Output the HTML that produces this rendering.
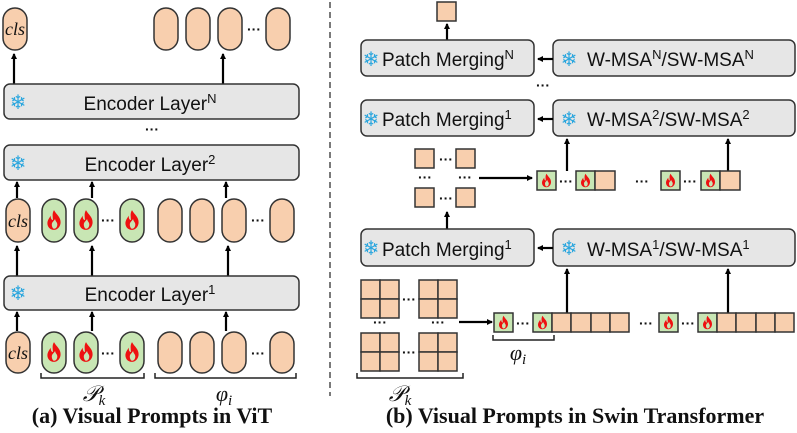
<!DOCTYPE html>
<html><head><meta charset="utf-8"><style>
html,body{margin:0;padding:0;background:#fff}
svg{display:block}
text{font-family:"Liberation Sans","DejaVu Sans",sans-serif}
.b{fill:#e6e6e6;stroke:#333;stroke-width:1.5}
.pe{fill:#f8cfae;stroke:#333;stroke-width:1.5}
.gr{fill:#c8e6b4;stroke:#333;stroke-width:1.5}
.ln{stroke:#000;stroke-width:2.2;fill:none}
.br{stroke:#222;stroke-width:1.5;fill:none}
.lbl{font-size:19px;fill:#111}
.sf{font-size:20px;fill:#2aa6de;font-family:"DejaVu Sans",sans-serif}
.dots{font-size:14px;fill:#111;font-weight:bold}
.cls{font-family:"Liberation Serif",serif;font-style:italic;font-size:18px;fill:#111}
.cap{font-family:"Liberation Serif",serif;font-weight:bold;font-size:22px;fill:#111}
.m{font-family:"Liberation Serif",serif;font-style:italic;font-size:22px;fill:#111}
</style></head><body>
<svg width="797" height="433" viewBox="0 0 797 433" xmlns="http://www.w3.org/2000/svg">
<defs>
<marker id="ah" markerWidth="6" markerHeight="6" refX="5" refY="3" orient="auto" markerUnits="userSpaceOnUse"><path d="M0,0 L6,3 L0,6 z" fill="#000"/></marker>
<symbol id="fl" viewBox="0 0 20 20"><path d="M10 1 C12 5 16 7 16 12 C16 16 13 19 10 19 C6 19 4 16 4 13 C4 10 6 8 7 6 C7 9 8 10 9 10 C9 7 8 4 10 1 Z M10 18 C12 18 13 16 13 14 C13 12 11 11 11 9 C10 11 8 12 8 14 C8 16 9 18 10 18Z" fill="#ee1111" fill-rule="evenodd"/></symbol>
</defs>

<!-- LEFT PANEL -->
<rect x="3" y="8" width="24" height="42" rx="12" class="pe"/><text x="15" y="35" class="cls" text-anchor="middle">cls</text>
<rect x="154" y="8" width="24" height="42" rx="12" class="pe"/>
<rect x="186" y="8" width="24" height="42" rx="12" class="pe"/>
<rect x="218" y="8" width="24" height="42" rx="12" class="pe"/>
<text x="254" y="34" class="dots" text-anchor="middle">···</text>
<rect x="266" y="8" width="24" height="42" rx="12" class="pe"/>
<line x1="14" y1="84" x2="14" y2="54" class="ln" marker-end="url(#ah)"/>
<line x1="223" y1="84" x2="223" y2="54" class="ln" marker-end="url(#ah)"/>

<rect x="4" y="84" width="295" height="35" rx="6" class="b"/>
<text x="18" y="109" class="sf" text-anchor="middle">❄</text>
<text x="150" y="110" class="lbl" text-anchor="middle">Encoder Layer<tspan font-size="13" dy="-7">N</tspan></text>
<text x="152" y="134" class="dots" text-anchor="middle">···</text>

<rect x="4" y="145" width="295" height="35" rx="6" class="b"/>
<text x="18" y="170" class="sf" text-anchor="middle">❄</text>
<text x="150" y="171" class="lbl" text-anchor="middle">Encoder Layer<tspan font-size="13" dy="-7">2</tspan></text>

<line x1="17" y1="198" x2="17" y2="182" class="ln" marker-end="url(#ah)"/>
<line x1="92" y1="198" x2="92" y2="182" class="ln" marker-end="url(#ah)"/>
<line x1="226" y1="198" x2="226" y2="182" class="ln" marker-end="url(#ah)"/>

<rect x="6" y="199" width="24" height="43" rx="12" class="pe"/><text x="18" y="227" class="cls" text-anchor="middle">cls</text>
<rect x="42" y="199" width="24" height="43" rx="12" class="gr"/><use href="#fl" x="43" y="208" width="22" height="24"/>
<rect x="74" y="199" width="24" height="43" rx="12" class="gr"/><use href="#fl" x="75" y="208" width="22" height="24"/>
<text x="108" y="225" class="dots" text-anchor="middle">···</text>
<rect x="120" y="199" width="24" height="43" rx="12" class="gr"/><use href="#fl" x="121" y="208" width="22" height="24"/>
<rect x="158" y="199" width="24" height="43" rx="12" class="pe"/>
<rect x="190" y="199" width="24" height="43" rx="12" class="pe"/>
<rect x="222" y="199" width="24" height="43" rx="12" class="pe"/>
<text x="258" y="225" class="dots" text-anchor="middle">···</text>
<rect x="270" y="199" width="24" height="43" rx="12" class="pe"/>

<line x1="17" y1="276" x2="17" y2="246" class="ln" marker-end="url(#ah)"/>
<line x1="92" y1="276" x2="92" y2="246" class="ln" marker-end="url(#ah)"/>
<line x1="228" y1="276" x2="228" y2="246" class="ln" marker-end="url(#ah)"/>

<rect x="4" y="276" width="295" height="34" rx="6" class="b"/>
<text x="18" y="300" class="sf" text-anchor="middle">❄</text>
<text x="150" y="301" class="lbl" text-anchor="middle">Encoder Layer<tspan font-size="13" dy="-7">1</tspan></text>

<line x1="17" y1="331" x2="17" y2="312" class="ln" marker-end="url(#ah)"/>
<line x1="92" y1="331" x2="92" y2="312" class="ln" marker-end="url(#ah)"/>
<line x1="226" y1="331" x2="226" y2="312" class="ln" marker-end="url(#ah)"/>

<rect x="6" y="332" width="24" height="41" rx="12" class="pe"/><text x="18" y="359" class="cls" text-anchor="middle">cls</text>
<rect x="42" y="332" width="24" height="41" rx="12" class="gr"/><use href="#fl" x="43" y="340" width="22" height="24"/>
<rect x="74" y="332" width="24" height="41" rx="12" class="gr"/><use href="#fl" x="75" y="340" width="22" height="24"/>
<text x="108" y="358" class="dots" text-anchor="middle">···</text>
<rect x="120" y="332" width="24" height="41" rx="12" class="gr"/><use href="#fl" x="121" y="340" width="22" height="24"/>
<rect x="158" y="332" width="24" height="41" rx="12" class="pe"/>
<rect x="190" y="332" width="24" height="41" rx="12" class="pe"/>
<rect x="222" y="332" width="24" height="41" rx="12" class="pe"/>
<text x="258" y="358" class="dots" text-anchor="middle">···</text>
<rect x="270" y="332" width="24" height="41" rx="12" class="pe"/>

<path d="M41 373 V378 H144 V373" class="br"/>
<path d="M155 373 V378 H296 V373" class="br"/>
<text x="94" y="401" class="m" text-anchor="middle">𝒫<tspan font-size="15" dy="4">k</tspan></text>
<text x="224" y="401" class="m" text-anchor="middle">φ<tspan font-size="15" dy="4">i</tspan></text>
<text x="152" y="423" class="cap" text-anchor="middle">(a) Visual Prompts in ViT</text>

<line x1="330" y1="2" x2="330" y2="396" stroke="#333" stroke-width="1.3" stroke-dasharray="6,4"/>

<!-- RIGHT PANEL -->
<rect x="437" y="2" width="19" height="19" class="pe"/>
<line x1="447" y1="40" x2="447" y2="24" class="ln" marker-end="url(#ah)"/>

<rect x="361" y="40" width="173" height="36" rx="6" class="b"/>
<text x="371" y="66" class="sf" text-anchor="middle">❄</text>
<text x="382" y="66" class="lbl">Patch Merging<tspan font-size="13" dy="-7">N</tspan></text>
<rect x="553" y="40" width="242" height="36" rx="6" class="b"/>
<text x="569" y="66" class="sf" text-anchor="middle">❄</text>
<text x="587" y="66" class="lbl">W-MSA<tspan font-size="13" dy="-7">N</tspan><tspan dy="7">/SW-MSA</tspan><tspan font-size="13" dy="-7">N</tspan></text>
<line x1="553" y1="59" x2="538" y2="59" class="ln" marker-end="url(#ah)"/>
<text x="543" y="90" class="dots" text-anchor="middle">···</text>

<rect x="361" y="100" width="173" height="36" rx="6" class="b"/>
<text x="371" y="126" class="sf" text-anchor="middle">❄</text>
<text x="382" y="126" class="lbl">Patch Merging<tspan font-size="13" dy="-7">1</tspan></text>
<rect x="553" y="100" width="242" height="36" rx="6" class="b"/>
<text x="569" y="126" class="sf" text-anchor="middle">❄</text>
<text x="587" y="126" class="lbl">W-MSA<tspan font-size="13" dy="-7">2</tspan><tspan dy="7">/SW-MSA</tspan><tspan font-size="13" dy="-7">2</tspan></text>
<line x1="553" y1="119" x2="538" y2="119" class="ln" marker-end="url(#ah)"/>

<line x1="567" y1="171" x2="567" y2="139" class="ln" marker-end="url(#ah)"/>
<line x1="728" y1="171" x2="728" y2="139" class="ln" marker-end="url(#ah)"/>

<rect x="415" y="149" width="19" height="19" class="pe"/>
<text x="446" y="164" class="dots" text-anchor="middle">···</text>
<rect x="456" y="149" width="19" height="19" class="pe"/>
<text x="425" y="182" class="dots" text-anchor="middle">···</text>
<text x="465" y="182" class="dots" text-anchor="middle">···</text>
<rect x="415" y="188" width="19" height="19" class="pe"/>
<text x="446" y="203" class="dots" text-anchor="middle">···</text>
<rect x="456" y="188" width="19" height="19" class="pe"/>
<line x1="479" y1="178" x2="532" y2="178" class="ln" marker-end="url(#ah)"/>

<rect x="537" y="171" width="19" height="19" class="gr"/><use href="#fl" x="539" y="173" width="15" height="15"/>
<text x="566" y="186" class="dots" text-anchor="middle">···</text>
<rect x="576" y="171" width="19" height="19" class="gr"/><use href="#fl" x="578" y="173" width="15" height="15"/>
<rect x="595" y="171" width="20" height="19" class="pe"/>
<text x="642" y="186" class="dots" text-anchor="middle">···</text>
<rect x="661" y="171" width="19" height="19" class="gr"/><use href="#fl" x="663" y="173" width="15" height="15"/>
<text x="690" y="186" class="dots" text-anchor="middle">···</text>
<rect x="701" y="171" width="19" height="19" class="gr"/><use href="#fl" x="703" y="173" width="15" height="15"/>
<rect x="720" y="171" width="20" height="19" class="pe"/>

<line x1="447" y1="229" x2="447" y2="212" class="ln" marker-end="url(#ah)"/>

<rect x="361" y="229" width="173" height="37" rx="6" class="b"/>
<text x="371" y="255" class="sf" text-anchor="middle">❄</text>
<text x="382" y="256" class="lbl">Patch Merging<tspan font-size="13" dy="-7">1</tspan></text>
<rect x="553" y="229" width="242" height="37" rx="6" class="b"/>
<text x="569" y="255" class="sf" text-anchor="middle">❄</text>
<text x="587" y="256" class="lbl">W-MSA<tspan font-size="13" dy="-7">1</tspan><tspan dy="7">/SW-MSA</tspan><tspan font-size="13" dy="-7">1</tspan></text>
<line x1="553" y1="248" x2="538" y2="248" class="ln" marker-end="url(#ah)"/>

<line x1="567" y1="313" x2="567" y2="269" class="ln" marker-end="url(#ah)"/>
<line x1="728" y1="313" x2="728" y2="269" class="ln" marker-end="url(#ah)"/>

<g class="pe">
<rect x="361" y="280" width="19" height="19"/><rect x="380" y="280" width="19" height="19"/><rect x="361" y="299" width="19" height="19"/><rect x="380" y="299" width="19" height="19"/>
<rect x="419" y="280" width="19" height="19"/><rect x="438" y="280" width="19" height="19"/><rect x="419" y="299" width="19" height="19"/><rect x="438" y="299" width="19" height="19"/>
<rect x="361" y="333" width="19" height="19"/><rect x="380" y="333" width="19" height="19"/><rect x="361" y="352" width="19" height="19"/><rect x="380" y="352" width="19" height="19"/>
<rect x="419" y="333" width="19" height="19"/><rect x="438" y="333" width="19" height="19"/><rect x="419" y="352" width="19" height="19"/><rect x="438" y="352" width="19" height="19"/>
</g>
<text x="409" y="304" class="dots" text-anchor="middle">···</text>
<text x="409" y="357" class="dots" text-anchor="middle">···</text>
<text x="380" y="327" class="dots" text-anchor="middle">···</text>
<text x="438" y="327" class="dots" text-anchor="middle">···</text>
<line x1="459" y1="322" x2="492" y2="322" class="ln" marker-end="url(#ah)"/>

<rect x="494" y="313" width="19" height="19" class="gr"/><use href="#fl" x="496" y="315" width="15" height="15"/>
<text x="523" y="328" class="dots" text-anchor="middle">···</text>
<rect x="533" y="313" width="19" height="19" class="gr"/><use href="#fl" x="535" y="315" width="15" height="15"/>
<rect x="552" y="313" width="19" height="19" class="pe"/><rect x="571" y="313" width="20" height="19" class="pe"/><rect x="591" y="313" width="19" height="19" class="pe"/><rect x="610" y="313" width="19" height="19" class="pe"/>
<text x="646" y="328" class="dots" text-anchor="middle">···</text>
<rect x="659" y="313" width="19" height="19" class="gr"/><use href="#fl" x="661" y="315" width="15" height="15"/>
<text x="688" y="328" class="dots" text-anchor="middle">···</text>
<rect x="698" y="313" width="19" height="19" class="gr"/><use href="#fl" x="700" y="315" width="15" height="15"/>
<rect x="717" y="313" width="19" height="19" class="pe"/><rect x="736" y="313" width="20" height="19" class="pe"/><rect x="756" y="313" width="19" height="19" class="pe"/><rect x="775" y="313" width="19" height="19" class="pe"/>

<path d="M493 335 V340 H554 V335" class="br"/>
<text x="518" y="360" class="m" text-anchor="middle">φ<tspan font-size="15" dy="4">i</tspan></text>
<path d="M357 373 V378 H463 V373" class="br"/>
<text x="400" y="401" class="m" text-anchor="middle">𝒫<tspan font-size="15" dy="4">k</tspan></text>
<text x="575" y="423" class="cap" text-anchor="middle">(b) Visual Prompts in Swin Transformer</text>
</svg>
</body></html>
